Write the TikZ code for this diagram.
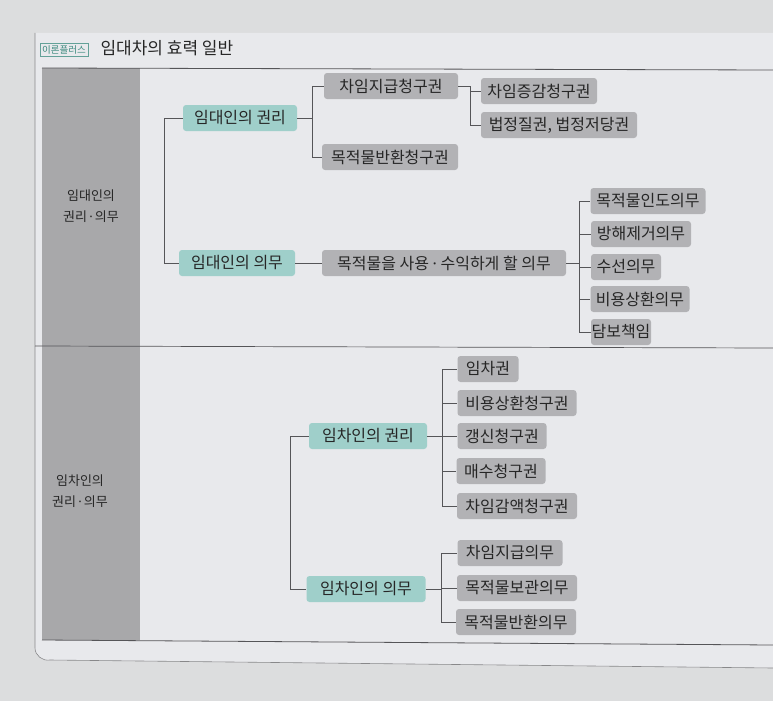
\documentclass[tikz,border=0pt]{standalone}
\usepackage{fontspec}
\newfontfamily\kr{Noto Sans CJK KR}
\newfontfamily\lat{Noto Sans}
\newcommand{\mdot}{{\lat·}}
\definecolor{pagebg}{HTML}{DCDDDE}
\definecolor{panelbg}{HTML}{E8E9EC}
\definecolor{colgray}{HTML}{A8A8AA}
\definecolor{nodegray}{HTML}{B2B2B5}
\definecolor{nodeteal}{HTML}{9FCFCA}
\definecolor{tagteal}{HTML}{3C8A7E}
\definecolor{ink}{HTML}{262626}
\definecolor{rule}{HTML}{555558}
\tikzset{
  box/.style={rounded corners=3pt, inner sep=0pt, minimum height=26pt, text=ink,
    font=\kr\fontsize{16}{18}\selectfont, anchor=center},
  graybox/.style={box, fill=nodegray},
  tealbox/.style={box, fill=nodeteal},
  conn/.style={draw=rule, line width=0.7pt},
  sidelabel/.style={align=center, text=ink, font=\kr\fontsize{13}{21}\selectfont}
}
\begin{document}
\begin{tikzpicture}[x=1pt,y=-1pt]
\useasboundingbox (0,0) rectangle (773,701);
\fill[pagebg] (0,0) rectangle (773,701);
% page panel with frame
\fill[panelbg] (35,33) -- (773,33) -- (773,668) -- (50,660) to[out=190,in=-90] (35,648) -- cycle;
\draw[rule!70, line width=0.6pt] (35,33) -- (35,648) to[out=-90,in=190] (50,660) -- (773,668);
% header
\node[draw=tagteal!80, line width=0.5pt, text=tagteal, inner sep=2pt,
      font=\kr\fontsize{9.5}{11}\selectfont] (tag) at (64,50) {이론플러스};
\node[text=ink, font=\kr\fontsize{17}{19}\selectfont, anchor=west] (title) at (97,48) {임대차의 효력 일반};
% gray column
\fill[colgray] (42,68) rectangle (140,640);
\draw[rule, line width=0.8pt] (42,68) -- (773,70);
\draw[rule, line width=0.7pt] (35,346) -- (773,348);
\draw[rule, line width=0.8pt] (42,640) -- (773,645);
% side labels
\node[sidelabel] (s1) at (91,206) {임대인의\\권리\,\mdot\,의무};
\node[sidelabel] (s2) at (80,491) {임차인의\\권리\,\mdot\,의무};

% ===== upper section =====
\node[tealbox, minimum width=114pt] (lr) at (240,118) {임대인의 권리};
\node[tealbox, minimum width=116pt] (ld) at (237,263) {임대인의 의무};
\node[graybox, minimum width=134pt] (r1) at (391,86) {차임지급청구권};
\node[graybox, minimum width=136pt] (r2) at (390,157) {목적물반환청구권};
\node[graybox, minimum width=116pt] (r11) at (539,91) {차임증감청구권};
\node[graybox, minimum width=156pt] (r12) at (559,125) {법정질권, 법정저당권};
\node[graybox, minimum width=244pt] (use) at (444,263) {목적물을 사용 \mdot{} 수익하게 할 의무};
\node[graybox, minimum width=115pt] (d1) at (648,201) {목적물인도의무};
\node[graybox, minimum width=100pt] (d2) at (641,234) {방해제거의무};
\node[graybox, minimum width=70pt]  (d3) at (626,267) {수선의무};
\node[graybox, minimum width=99pt]  (d4) at (640,299) {비용상환의무};
\node[graybox, minimum width=60pt]  (d5) at (621,332) {담보책임};

\coordinate (b1) at (164,118);
\draw[conn] (lr.west) -- (b1) |- (ld.west);
\coordinate (t1) at (312,118);
\draw[conn] (lr.east) -- (t1);
\draw[conn] (t1) |- (r1.west);
\draw[conn] (t1) |- (r2.west);
\coordinate (t2) at (470,86);
\draw[conn] (r1.east) -- (t2);
\draw[conn] (t2) |- (r11.west);
\draw[conn] (t2) |- (r12.west);
\draw[conn] (ld.east) -- (use.west);
\coordinate (t3) at (579,263);
\draw[conn] (use.east) -- (t3);
\foreach \n in {d1,d2,d3,d4,d5} \draw[conn] (t3) |- (\n.west);

% ===== lower section =====
\node[tealbox, minimum width=118pt] (er) at (368,436) {임차인의 권리};
\node[tealbox, minimum width=119pt] (ed) at (366,589) {임차인의 의무};
\node[graybox, minimum width=61pt]  (e1) at (488,369) {임차권};
\node[graybox, minimum width=119pt] (e2) at (517,403) {비용상환청구권};
\node[graybox, minimum width=89pt]  (e3) at (502,436) {갱신청구권};
\node[graybox, minimum width=89pt]  (e4) at (501,471) {매수청구권};
\node[graybox, minimum width=120pt] (e5) at (517,506) {차임감액청구권};
\node[graybox, minimum width=105pt] (f1) at (510,553) {차임지급의무};
\node[graybox, minimum width=120pt] (f2) at (517,588) {목적물보관의무};
\node[graybox, minimum width=120pt] (f3) at (516,622) {목적물반환의무};

\coordinate (b2) at (290,436);
\draw[conn] (er.west) -- (b2) |- (ed.west);
\coordinate (t4) at (442,436);
\draw[conn] (er.east) -- (t4);
\foreach \n in {e1,e2,e3,e4,e5} \draw[conn] (t4) |- (\n.west);
\coordinate (t5) at (441,589);
\draw[conn] (ed.east) -- (t5);
\foreach \n in {f1,f2,f3} \draw[conn] (t5) |- (\n.west);
\end{tikzpicture}
\end{document}
